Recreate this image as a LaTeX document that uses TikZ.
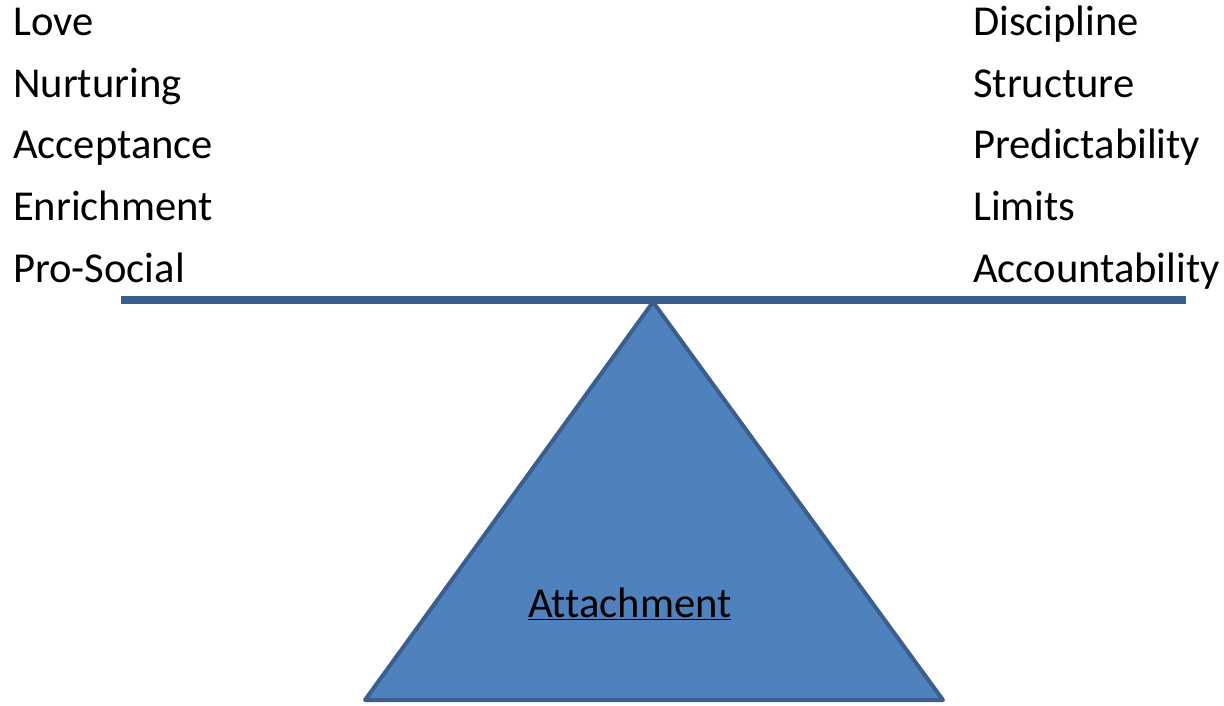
\documentclass[tikz,border=0pt]{standalone}
\usepackage{fontspec}
\setmainfont[Ligatures={NoCommon}]{Carlito}
\definecolor{fillblue}{HTML}{4F81BD}
\definecolor{lineblue}{HTML}{3A5F8E}
\begin{document}
\begin{tikzpicture}[x=1pt,y=-1pt,
  lbl/.style={anchor=base west,inner sep=0pt,font=\fontsize{42.6}{50}\selectfont},
  beam/.style={draw=lineblue,line width=8pt},
  fulcrum/.style={fill=fillblue,draw=lineblue,line width=4pt,line join=round}]
\useasboundingbox (0,0) rectangle (1224,705);
% fulcrum
\coordinate (apex) at (653,302);
\coordinate (bl) at (365,700);
\coordinate (br) at (943,700);
\path[fulcrum] (apex) -- (br) -- (bl) -- cycle;
% beam
\coordinate (beamL) at (121,300);
\coordinate (beamR) at (1186,300);
\draw[beam] (beamL) -- (beamR);
% left labels
\node[lbl] (love) at (13,35) {Love};
\node[lbl] (nurt) at (13,97) {Nurturing};
\node[lbl] (acc) at (13,158) {Acceptance};
\node[lbl] (enr) at (13,220) {Enrichment};
\node[lbl] (pro) at (13,282) {Pro-Social};
% right labels
\node[lbl] (disc) at (973,35) {Discipline};
\node[lbl] (struc) at (973,97) {Structure};
\node[lbl] (pred) at (973,158) {Predictability};
\node[lbl] (lim) at (973,220) {Limits};
\node[lbl] (accnt) at (973,282) {Accountability};
% center label
\node[lbl] (att) at (528,617) {\underline{Attachment}};
\end{tikzpicture}
\end{document}
